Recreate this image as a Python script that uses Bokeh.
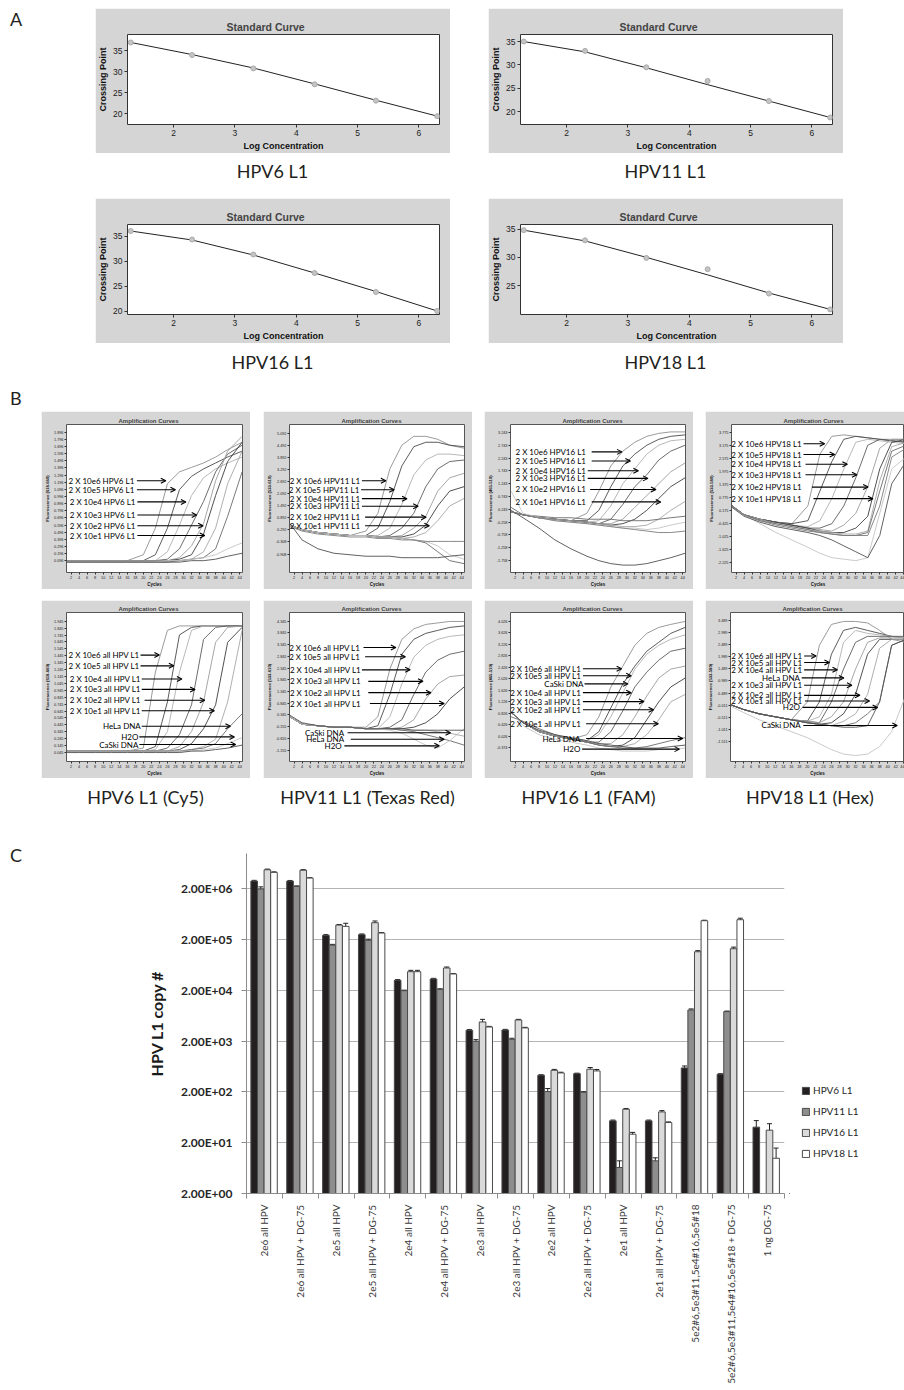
import numpy as np
from bokeh.plotting import figure
from bokeh.models import (ColumnDataSource, FixedTicker, Div, Spacer, Arrow, OpenHead,
                          Whisker, TeeHead, Legend, LegendItem, Range1d)
from bokeh.layouts import column, row
from bokeh.core.properties import value
from bokeh.embed import file_html
from bokeh.resources import INLINE

# ---------------- Panel A : standard curves ----------------
A_logc = [1.3, 2.3, 3.3, 4.3, 5.3, 6.3]
A_names = ["HPV6 L1", "HPV11 L1", "HPV16 L1", "HPV18 L1"]
A_pts = {
    "HPV6 L1": [37.0, 34.0, 30.8, 27.0, 23.1, 19.4],
    "HPV11 L1": [35.0, 33.0, 29.5, 26.6, 22.3, 18.8],
    "HPV16 L1": [36.0, 34.3, 31.3, 27.6, 23.8, 20.0],
    "HPV18 L1": [34.8, 33.0, 29.9, 27.9, 23.6, 20.8],
}
A_fit = {
    "HPV6 L1": [37.0, 34.1, 30.9, 27.1, 23.2, 19.4],
    "HPV11 L1": [35.0, 32.8, 29.4, 25.8, 22.3, 18.8],
    "HPV16 L1": [36.0, 34.2, 31.2, 27.6, 23.9, 20.0],
    "HPV18 L1": [34.8, 32.9, 30.0, 26.9, 23.7, 20.8],
}
A_yrange = {"HPV6 L1": (17.4, 38.9), "HPV11 L1": (17.3, 36.5),
            "HPV16 L1": (19.3, 37.3), "HPV18 L1": (19.9, 35.8)}
A_yticks = {"HPV6 L1": [20, 25, 30, 35], "HPV11 L1": [20, 25, 30, 35],
            "HPV16 L1": [20, 25, 30, 35], "HPV18 L1": [25, 30, 35]}

# ---------------- Panel B : amplification curves (percent of axis height) ----------------
B_cycles = [1, 4, 8, 12, 16, 20, 23, 26, 29, 32, 35, 38, 41, 44.6]

B1_curves = [
    [8, 8, 8, 8, 8, 12, 30, 60, 68, 71, 74, 78, 83, 88],
    [8, 8, 8, 8, 8, 8, 12, 30, 56, 65, 70, 74, 78, 82],
    [8, 8, 8, 8, 8, 8, 8, 14, 32, 52, 64, 70, 74, 78],
    [8, 8, 8, 8, 8, 8, 8, 9, 16, 32, 48, 68, 80, 86],
    [8, 8, 8, 8, 8, 8, 8, 8, 10, 18, 33, 62, 82, 92],
    [8, 8, 8, 8, 8, 8, 8, 8, 9, 12, 26, 52, 75, 88],
    [8, 8, 8, 8, 8, 8, 8, 8, 8, 9, 14, 30, 60, 82],
    [7, 7, 7, 7, 7, 7, 7, 7, 8, 9, 10, 16, 38, 68],
    [7, 7, 7, 7, 7, 7, 7, 8, 8, 9, 10, 12, 16, 20],
    [7, 7, 7, 7, 7, 7, 7, 7, 7, 8, 8, 9, 11, 13],
]
B2_curves = [
    [32, 29, 27, 26, 25, 28, 40, 70, 86, 92, 92, 90, 86, 84],
    [32, 29, 27, 26, 25, 25, 30, 48, 72, 85, 88, 88, 86, 85],
    [32, 29, 27, 26, 25, 25, 25, 30, 46, 66, 76, 80, 80, 79],
    [32, 29, 27, 26, 25, 25, 24, 25, 30, 40, 58, 70, 75, 76],
    [32, 29, 27, 26, 25, 25, 24, 24, 25, 30, 38, 55, 64, 67],
    [32, 29, 27, 26, 25, 25, 24, 24, 24, 26, 32, 45, 55, 58],
    [32, 29, 27, 26, 25, 25, 24, 24, 23, 24, 27, 35, 45, 50],
    [32, 29, 27, 26, 25, 25, 24, 24, 23, 22, 20, 14, 8, 6],
    [32, 29, 27, 26, 25, 25, 24, 24, 23, 22, 21, 18, 12, 9],
    [33, 22, 16, 13, 12, 11, 11, 11, 10, 10, 10, 10, 11, 12],
    [31, 28, 26, 25, 24, 24, 23, 23, 22, 22, 21, 21, 21, 21],
]
B3_curves = [
    [41, 39, 37, 36, 35, 40, 55, 72, 82, 88, 92, 94, 95, 95],
    [41, 39, 37, 36, 35, 35, 42, 58, 72, 80, 86, 90, 92, 93],
    [41, 39, 37, 36, 35, 34, 35, 45, 60, 70, 80, 86, 89, 90],
    [41, 39, 37, 36, 35, 34, 33, 36, 46, 58, 66, 76, 82, 86],
    [41, 39, 37, 36, 35, 34, 33, 33, 36, 44, 52, 60, 68, 74],
    [41, 39, 37, 36, 35, 34, 33, 32, 33, 36, 42, 50, 58, 64],
    [41, 39, 37, 36, 35, 34, 33, 32, 31, 31, 32, 36, 42, 48],
    [44, 39, 38, 37, 37, 36, 36, 36, 35, 35, 35, 36, 37, 38],
    [55, 40, 37, 35, 34, 33, 32, 31, 30, 30, 29, 30, 32, 34],
    [42, 37, 30, 22, 16, 11, 8, 6, 5, 5, 6, 8, 10, 13],
    [41, 39, 37, 35, 34, 33, 32, 31, 30, 29, 28, 27, 27, 28],
]
B4_curves = [
    [45, 39, 36, 34, 33, 45, 80, 92, 93, 92, 91, 90, 90, 90],
    [45, 39, 36, 34, 33, 35, 55, 75, 90, 92, 91, 90, 89, 88],
    [45, 39, 36, 34, 32, 31, 35, 50, 70, 88, 90, 89, 88, 87],
    [45, 39, 36, 34, 32, 30, 30, 33, 45, 64, 86, 90, 89, 88],
    [45, 39, 36, 34, 32, 30, 29, 28, 32, 40, 58, 84, 90, 90],
    [45, 39, 36, 34, 32, 30, 28, 27, 27, 30, 38, 70, 88, 90],
    [45, 39, 36, 33, 31, 29, 28, 27, 26, 26, 28, 62, 85, 88],
    [45, 39, 35, 33, 31, 29, 27, 26, 25, 25, 27, 55, 82, 86],
    [44, 39, 33, 27, 22, 17, 13, 10, 9, 8, 10, 40, 70, 78],
    [44, 38, 34, 31, 29, 27, 25, 22, 18, 14, 10, 25, 60, 75],
    [45, 39, 35, 32, 30, 28, 27, 26, 25, 25, 25, 45, 78, 84],
]
B5_curves = [
    [7, 7, 7, 7, 7, 9, 60, 88, 91, 91, 91, 91, 91, 91],
    [7, 7, 7, 7, 7, 7, 10, 40, 85, 90, 91, 91, 91, 91],
    [7, 7, 7, 7, 7, 7, 8, 20, 60, 88, 91, 91, 91, 91],
    [7, 7, 7, 7, 7, 7, 7, 9, 18, 38, 82, 90, 91, 91],
    [7, 7, 7, 7, 7, 7, 7, 7, 10, 20, 40, 80, 90, 91],
    [7, 7, 7, 7, 7, 7, 7, 7, 8, 12, 22, 38, 80, 90],
    [7, 7, 7, 7, 7, 7, 7, 7, 7, 8, 10, 15, 40, 88],
    [7, 7, 7, 7, 7, 7, 7, 7, 7, 8, 9, 12, 22, 32],
    [7, 7, 7, 7, 7, 7, 7, 7, 7, 7, 8, 9, 12, 16],
    [6, 6, 6, 6, 6, 6, 6, 6, 6, 7, 7, 8, 9, 11],
]
B6_curves = [
    [30, 25, 24, 23, 23, 23, 30, 62, 82, 89, 92, 93, 94, 94],
    [30, 25, 24, 23, 23, 22, 24, 45, 72, 82, 86, 88, 90, 91],
    [30, 25, 24, 23, 23, 22, 22, 30, 52, 70, 78, 82, 84, 85],
    [30, 25, 24, 23, 23, 22, 22, 23, 28, 45, 60, 68, 72, 74],
    [30, 25, 24, 23, 23, 22, 22, 22, 23, 28, 42, 52, 57, 58],
    [30, 25, 24, 23, 23, 22, 22, 22, 22, 23, 26, 32, 42, 50],
    [30, 25, 24, 23, 23, 22, 22, 22, 21, 21, 21, 20, 19, 17],
    [30, 25, 24, 23, 23, 22, 22, 22, 21, 20, 18, 16, 14, 11],
    [30, 25, 24, 23, 23, 22, 22, 21, 19, 15, 11, 9, 14, 22],
    [31, 26, 24, 23, 23, 22, 22, 22, 22, 21, 21, 21, 21, 21],
]
B7_curves = [
    [33, 26, 20, 17, 15, 18, 30, 50, 64, 78, 86, 90, 92, 94],
    [33, 26, 20, 17, 15, 14, 20, 36, 52, 64, 74, 80, 86, 90],
    [33, 26, 20, 17, 15, 14, 18, 30, 46, 62, 72, 78, 82, 85],
    [33, 26, 20, 17, 15, 13, 13, 20, 34, 50, 60, 68, 74, 76],
    [33, 26, 20, 17, 15, 13, 12, 12, 18, 30, 44, 56, 62, 64],
    [33, 26, 20, 17, 15, 13, 11, 10, 11, 16, 28, 40, 50, 56],
    [33, 26, 20, 17, 15, 13, 11, 10, 10, 12, 18, 28, 40, 45],
    [30, 27, 22, 18, 15, 13, 11, 10, 9, 9, 10, 12, 14, 16],
    [34, 24, 18, 15, 13, 11, 9, 8, 7, 7, 7, 8, 8, 9],
    [33, 26, 21, 18, 16, 14, 12, 11, 10, 9, 9, 9, 10, 11],
]
B8_curves = [
    [38, 35, 32, 30, 28, 40, 78, 92, 94, 94, 93, 88, 82, 80],
    [38, 35, 32, 30, 28, 27, 40, 72, 88, 90, 88, 86, 84, 83],
    [38, 35, 32, 30, 28, 27, 30, 45, 80, 88, 86, 85, 84, 83],
    [38, 35, 32, 30, 28, 27, 26, 40, 62, 80, 84, 84, 84, 84],
    [38, 35, 32, 30, 28, 27, 26, 30, 40, 62, 80, 83, 83, 83],
    [38, 35, 32, 30, 28, 26, 25, 26, 32, 45, 72, 82, 82, 82],
    [38, 35, 32, 30, 28, 26, 25, 24, 27, 32, 45, 76, 82, 82],
    [38, 35, 32, 30, 28, 26, 25, 24, 24, 26, 32, 40, 78, 82],
    [37, 33, 28, 24, 20, 16, 12, 8, 5, 4, 5, 10, 20, 45],
    [38, 35, 32, 30, 28, 26, 25, 24, 23, 23, 24, 40, 78, 82],
]

# y-axis tick labels (fluorescence), top to bottom, with their top/bottom positions (percent)
B_ticks = [
    (["1.896", "1.796", "1.696", "1.596", "1.496", "1.396", "1.296", "1.196", "1.096", "0.996",
      "0.896", "0.796", "0.696", "0.596", "0.496", "0.396", "0.296", "0.196", "0.096"], 94.7, 8.0),
    (["5.092", "4.492", "3.892", "3.292", "2.692", "2.092", "1.492", "0.892", "0.292", "-0.308",
      "-0.908"], 94.0, 12.5),
    (["3.243", "2.743", "2.243", "1.743", "1.243", "0.743", "0.243", "-0.258", "-0.758", "-1.258",
      "-1.758"], 94.7, 8.0),
    (["3.775", "3.175", "2.575", "1.975", "1.375", "0.775", "0.175", "-0.425", "-1.025", "-1.625",
      "-2.225"], 94.7, 6.5),
    (["1.945", "1.845", "1.745", "1.645", "1.545", "1.445", "1.345", "1.245", "1.145", "1.045",
      "0.945", "0.845", "0.745", "0.645", "0.545", "0.445", "0.345", "0.245", "0.145", "0.045"], 94.1, 6.1),
    (["4.345", "3.845", "3.345", "2.845", "2.345", "1.845", "1.345", "0.845", "0.345", "-0.155",
      "-0.655", "-1.155"], 94.1, 7.7),
    (["4.026", "3.626", "3.226", "2.826", "2.426", "2.026", "1.626", "1.226", "0.826", "0.426",
      "0.026", "-0.374"], 94.1, 9.2),
    (["3.489", "2.989", "2.489", "1.989", "1.489", "0.989", "0.489", "-0.011", "-0.511", "-1.011",
      "-1.511"], 94.5, 13.6),
]
B_ylabels = ["Fluorescence (618-660)", "Fluorescence (533-610)", "Fluorescence (465-510)",
             "Fluorescence (533-580)", "Fluorescence (618-660)", "Fluorescence (533-610)",
             "Fluorescence (465-510)", "Fluorescence (533-580)"]

# annotations: label text, text right end (cycle), arrow tail, arrow tip, level (percent)
B_ann = [
    dict(lab=["2 X 10e6 HPV6 L1", "2 X 10e5 HPV6 L1", "2 X 10e4 HPV6 L1", "2 X 10e3 HPV6 L1",
              "2 X 10e2 HPV6 L1", "2 X 10e1 HPV6 L1"],
         tx=[18.0, 18.0, 18.3, 18.3, 18.3, 18.3], tail=[18.4, 18.4, 18.5, 18.5, 18.5, 18.5],
         tip=[25.6, 28.0, 30.6, 33.3, 34.9, 35.3], ly=[62.0, 55.9, 47.7, 38.9, 31.6, 25.0]),
    dict(lab=["2 X 10e6 HPV11 L1", "2 X 10e5 HPV11 L1", "2 X 10e4 HPV11 L1", "2 X 10e3 HPV11 L1",
              "2 X 10e2 HPV11 L1", "2 X 10e1 HPV11 L1"],
         tx=[18.8, 18.6, 18.8, 18.8, 18.8, 18.8], tail=[19.0, 18.8, 19.0, 19.0, 19.8, 19.8],
         tip=[25.0, 27.1, 30.3, 33.1, 35.1, 35.9], ly=[62.0, 55.9, 49.9, 44.8, 37.4, 31.6]),
    dict(lab=["2 X 10e6 HPV16 L1", "2 X 10e5 HPV16 L1", "2 X 10e4 HPV16 L1", "2 X 10e3 HPV16 L1",
              "2 X 10e2 HPV16 L1", "2 X 10e1 HPV16 L1"],
         tx=[20.0, 20.0, 20.0, 20.0, 20.0, 20.0], tail=[21.2, 21.2, 20.2, 20.2, 20.8, 21.2],
         tip=[28.8, 30.9, 32.9, 35.3, 37.3, 38.5], ly=[81.5, 75.3, 68.7, 63.6, 56.1, 47.7]),
    dict(lab=["2 X 10e6 HPV18 L1", "2 X 10e5 HPV18 L1", "2 X 10e4 HPV18 L1", "2 X 10e3 HPV18 L1",
              "2 X 10e2 HPV18 L1", "2 X 10e1 HPV18 L1"],
         tx=[18.7, 18.7, 18.7, 18.7, 18.7, 18.7], tail=[18.9, 18.9, 19.4, 19.4, 21.0, 21.4],
         tip=[24.2, 26.7, 29.9, 32.3, 35.1, 36.3], ly=[87.0, 79.7, 73.1, 66.0, 57.7, 49.9]),
    dict(lab=["2 X 10e6 all HPV L1", "2 X 10e5 all HPV L1", "2 X 10e4 all HPV L1", "2 X 10e3 all HPV L1",
              "2 X 10e2 all HPV L1", "2 X 10e1 all HPV L1", "HeLa DNA", "H2O", "CaSki DNA"],
         tx=[19.3, 19.3, 19.6, 19.6, 19.6, 19.6, 19.6, 19.0, 19.0],
         tail=[19.3, 19.3, 19.6, 19.6, 20.3, 19.6, 19.6, 19.0, 19.0],
         tip=[24.0, 27.6, 29.6, 32.9, 35.3, 37.7, 41.7, 42.7, 43.0],
         ly=[71.4, 64.2, 55.4, 48.4, 41.1, 34.1, 23.7, 16.5, 11.4]),
    dict(lab=["2 X 10e6 all HPV L1", "2 X 10e5 all HPV L1", "2 X 10e4 all HPV L1", "2 X 10e3 all HPV L1",
              "2 X 10e2 all HPV L1", "2 X 10e1 all HPV L1", "CaSki DNA", "HeLa DNA", "H2O"],
         tx=[18.8, 18.8, 19.0, 19.0, 19.0, 19.0, 14.8, 14.8, 14.2],
         tail=[19.4, 19.8, 19.0, 20.6, 20.6, 21.0, 15.4, 16.2, 14.6],
         tip=[27.5, 29.9, 31.1, 34.3, 36.3, 39.6, 41.2, 39.6, 38.4],
         ly=[76.5, 70.3, 61.5, 53.8, 46.2, 38.9, 19.3, 14.9, 10.5]),
    dict(lab=["2 X 10e6 all HPV L1", "2 X 10e5 all HPV L1", "CaSki DNA", "2 X 10e4 all HPV L1",
              "2 X 10e3 all HPV L1", "2 X 10e2 all HPV L1", "2 X 10e1 all HPV L1", "HeLa DNA", "H2O"],
         tx=[18.8, 18.8, 19.4, 18.8, 18.8, 18.8, 18.8, 18.6, 18.6],
         tail=[19.0, 19.0, 19.4, 19.0, 19.0, 19.0, 19.8, 19.8, 18.8],
         tip=[28.7, 31.1, 30.3, 31.1, 34.3, 36.7, 37.9, 44.0, 43.2],
         ly=[62.2, 57.6, 52.1, 46.2, 40.2, 34.7, 25.3, 15.4, 8.3]),
    dict(lab=["2 X 10e6 all HPV L1", "2 X 10e5 all HPV L1", "2 X 10e4 all HPV L1", "HeLa DNA",
              "2 X 10e3 all HPV L1", "2 X 10e2 all HPV L1", "2 X 10e1 all HPV L1", "H2O", "CaSki DNA"],
         tx=[19.0, 19.0, 19.0, 18.4, 19.0, 19.0, 19.0, 18.4, 18.6],
         tail=[19.2, 19.2, 19.2, 18.6, 19.2, 19.2, 19.4, 18.8, 19.0],
         tip=[22.2, 25.5, 27.5, 29.1, 31.1, 33.1, 35.5, 37.5, 42.4],
         ly=[70.8, 66.4, 61.5, 56.1, 51.2, 44.4, 40.6, 36.3, 24.2]),
]
B_titles = ["HPV6 L1 (Cy5)", "HPV11 L1 (Texas Red)", "HPV16 L1 (FAM)", "HPV18 L1 (Hex)"]

# ---------------- Panel C : copy numbers ----------------
C_labels = ["2e6 all HPV", "2e6 all HPV + DG-75", "2e5 all HPV", "2e5 all HPV + DG-75",
            "2e4 all HPV", "2e4 all HPV + DG-75", "2e3 all HPV", "2e3 all HPV + DG-75",
            "2e2 all HPV", "2e2 all HPV + DG-75", "2e1 all HPV", "2e1 all HPV + DG-75",
            "5e2#6,5e3#11,5e4#16,5e5#18", "5e2#6,5e3#11,5e4#16,5e5#18 + DG-75", "1 ng DG-75"]
C_series = ["HPV6 L1", "HPV11 L1", "HPV16 L1", "HPV18 L1"]
C_hpv6 = [2.86e6, 2.86e6, 2.44e5, 2.52e5, 3.18e4, 3.37e4, 3.29e3, 3.33e3, 4.28e2, 4.6e2, 54, 54, 5.96e2, 4.48e2, 40.6]
C_hpv11 = [2.0e6, 2.25e6, 1.57e5, 1.95e5, 1.98e4, 2.11e4, 2.0e3, 2.19e3, 2.04e2, 1.98e2, 6.5, 8.8, 8.26e3, 7.66e3, float("nan")]
C_hpv16 = [4.78e6, 4.7e6, 3.89e5, 4.33e5, 4.69e4, 5.55e4, 4.8e3, 5.25e3, 5.37e2, 5.62e2, 91.7, 81, 1.16e5, 1.33e5, 35.4]
C_hpv18 = [4.25e6, 3.28e6, 3.67e5, 2.71e5, 4.69e4, 4.23e4, 3.82e3, 3.66e3, 4.75e2, 5.2e2, 29.5, 50, 4.74e5, 4.96e5, 9.9]
C_err6 = [0.1e6, 0.08e6, 0.08e5, 0.08e5, 0.1e4, 0.1e4, 0.1e3, 0.1e3, 0.1e2, 0.1e2, 2, 2, 0.55e2, 0.1e2, 14]
C_err11 = [0.2e6, 0.05e6, 0.05e5, 0.1e5, 0.05e4, 0.05e4, 0.15e3, 0.1e3, 0.3e2, 0.05e2, 2.3, 1.3, 0.4e3, 0.2e3, float("nan")]
C_err16 = [0.15e6, 0.1e6, 0.1e5, 0.35e5, 0.3e4, 0.25e4, 0.6e3, 0.15e3, 0.2e2, 0.45e2, 3, 5, 0.06e5, 0.1e5, 12]
C_err18 = [0.1e6, 0.05e6, 0.55e5, 0.05e5, 0.3e4, 0.05e4, 0.1e3, 0.1e3, 0.15e2, 0.35e2, 2.5, 1.5, 0.1e5, 0.35e5, 5.8]
C_ticks = [2, 20, 200, 2000, 20000, 200000, 2000000]
C_tick_text = ["2.00E+00", "2.00E+01", "2.00E+02", "2.00E+03", "2.00E+04", "2.00E+05", "2.00E+06"]

PAL = ["#8f8f8f", "#4a4a4a", "#b0b0b0", "#5c5c5c", "#9c9c9c", "#3d3d3d",
       "#a6a6a6", "#6b6b6b", "#c4c4c4", "#505050", "#7d7d7d"]


def style_axis(ax, font, lab_size, title_size, tick_out, standoff, lstandoff):
    ax.axis_line_color = None
    ax.major_tick_line_color = "#333333"
    ax.major_tick_out = tick_out
    ax.major_tick_in = 0
    ax.minor_tick_line_color = None
    ax.major_label_text_font = font
    ax.major_label_text_font_size = lab_size
    ax.major_label_text_color = "#222222"
    ax.axis_label_text_font = font
    ax.axis_label_text_font_size = title_size
    ax.axis_label_text_font_style = "bold"
    ax.axis_label_text_color = "#111111"
    ax.major_label_standoff = standoff
    ax.axis_label_standoff = lstandoff


def std_fig(name):
    p = figure(width=355, height=145, output_backend="svg", toolbar_location=None,
               x_range=Range1d(1.247, 6.337), y_range=Range1d(*A_yrange[name]),
               min_border_left=31, min_border_right=11, min_border_top=26, min_border_bottom=29)
    p.border_fill_color = "#d5d5d5"
    p.background_fill_color = "white"
    p.outline_line_color = "#333333"
    p.title.text = "Standard Curve"
    p.title.text_font = "Liberation Sans"
    p.title.text_font_size = "10.5px"
    p.title.text_font_style = "bold"
    p.title.align = "left"
    p.title.offset = 99
    p.title.standoff = 3
    p.grid.visible = False
    p.xaxis.ticker = FixedTicker(ticks=[2, 3, 4, 5, 6])
    p.yaxis.ticker = FixedTicker(ticks=A_yticks[name])
    style_axis(p.xaxis[0], "Liberation Sans", "8.5px", "9px", 3, 2, 2)
    style_axis(p.yaxis[0], "Liberation Sans", "8.5px", "9px", 3, 2, 2)
    p.xaxis.axis_label = "Log Concentration"
    p.yaxis.axis_label = "Crossing Point"
    p.line(A_logc, A_fit[name], line_color="#222222", line_width=1)
    p.scatter(A_logc, A_pts[name], size=5, fill_color="#c4c4c4", line_color="#aaaaaa")
    return p


def amp_fig(i, curves, width=209, xmax=44.7, right=8, top=13):
    p = figure(width=width, height=178, output_backend="svg", toolbar_location=None,
               x_range=Range1d(0.86, xmax), y_range=Range1d(0, 100),
               min_border_left=20, min_border_right=right, min_border_top=top,
               min_border_bottom=178 - top - 151)
    p.border_fill_color = "#d6d6d6"
    p.background_fill_color = "white"
    p.outline_line_color = "#555555"
    p.grid.visible = False
    p.title.text = "Amplification Curves"
    p.title.text_font = "Liberation Sans"
    p.title.text_font_size = "6px"
    p.title.text_font_style = "bold"
    p.title.align = "left"
    p.title.offset = 52
    p.title.standoff = 2
    labels, ttop, tbot = B_ticks[i]
    yt = [round(v, 3) for v in np.linspace(ttop, tbot, len(labels))]
    p.yaxis.ticker = FixedTicker(ticks=yt)
    p.yaxis.major_label_overrides = {t: s for t, s in zip(yt, labels)}
    p.xaxis.ticker = FixedTicker(ticks=list(range(2, 45, 2)))
    style_axis(p.xaxis[0], "Liberation Sans", "3.8px", "4.5px", 2, 1, 0)
    style_axis(p.yaxis[0], "Liberation Sans", "3.8px", "4.2px", 2, 1, 1)
    p.xaxis.axis_label = "Cycles"
    p.yaxis.axis_label = B_ylabels[i]
    p.multi_line(xs=[B_cycles] * len(curves), ys=curves, line_color=PAL[:len(curves)], line_width=0.9)
    a = B_ann[i]
    src = ColumnDataSource(dict(x0=a["tail"], x1=a["tip"], y=a["ly"]))
    p.add_layout(Arrow(end=OpenHead(size=5, line_width=1.1, line_color="black"),
                       x_start="x0", y_start="y", x_end="x1", y_end="y", source=src,
                       line_width=1.1, line_color="black"))
    p.text(x=a["tx"], y=a["ly"], text=a["lab"], text_align="right", text_baseline="middle",
           text_font=value("Lato"), text_font_size="8px", text_color="black", x_offset=-1)
    return p


def tdiv(s, w, h, cy, size=18, left=None, boxw=None):
    bw = boxw or w
    if left is None:
        pos = f"left:0px;width:{bw}px;text-align:center;"
    else:
        pos = f"left:{left}px;"
    html = (f'<div style="position:relative;width:{w}px;height:{h}px;overflow:visible;">'
            f'<div style="position:absolute;{pos}top:{cy - 12}px;height:24px;line-height:24px;'
            f'font-family:Lato,sans-serif;font-size:{size}px;color:#231f20;white-space:nowrap;">{s}</div></div>')
    return Div(text=html, width=w, height=h, margin=(0, 0, 0, 0))


fa = [std_fig(n) for n in A_names]
allB = [B1_curves, B2_curves, B3_curves, B4_curves, B5_curves, B6_curves, B7_curves, B8_curves]
fb = []
for i, cv in enumerate(allB):
    top = 13 if i < 4 else 12
    if i % 4 == 3:
        fb.append(amp_fig(i, cv, width=199, xmax=44.2, right=0, top=top))
    else:
        fb.append(amp_fig(i, cv, top=top))

# ---- panel C figure ----
pC = figure(width=751, height=578, output_backend="svg", toolbar_location=None,
            x_range=Range1d(0, 15), y_range=Range1d(2, 1e7), y_axis_type="log",
            min_border_left=208, min_border_right=5, min_border_top=41, min_border_bottom=197)
pC.outline_line_color = None
pC.xgrid.visible = False
pC.yaxis.ticker = FixedTicker(ticks=C_ticks)
pC.ygrid.ticker = FixedTicker(ticks=C_ticks)
pC.ygrid.grid_line_color = "#b4b4b4"
pC.ygrid.grid_line_width = 1
pC.yaxis.major_label_overrides = {t: s for t, s in zip(C_ticks, C_tick_text)}
pC.yaxis.axis_line_color = "#8c8c8c"
pC.yaxis.major_tick_line_color = "#8c8c8c"
pC.yaxis.major_tick_out = 5
pC.yaxis.major_tick_in = 0
pC.yaxis.minor_tick_line_color = None
pC.yaxis.major_label_text_font = "Lato"
pC.yaxis.major_label_text_font_style = "bold"
pC.yaxis.major_label_text_font_size = "12px"
pC.yaxis.major_label_text_color = "#262626"
pC.yaxis.major_label_standoff = 9
pC.yaxis.axis_label = "HPV L1 copy #"
pC.yaxis.axis_label_text_font = "Lato"
pC.yaxis.axis_label_text_font_style = "bold"
pC.yaxis.axis_label_text_font_size = "16px"
pC.yaxis.axis_label_text_color = "#1a1a1a"
pC.yaxis.axis_label_standoff = 12

centers = [i + 0.5 for i in range(15)]
pC.xaxis.ticker = FixedTicker(ticks=centers, minor_ticks=list(range(16)))
pC.xaxis.major_label_overrides = {c: s for c, s in zip(centers, C_labels)}
pC.xaxis.major_label_orientation = np.pi / 2
pC.xaxis.axis_line_color = "#8c8c8c"
pC.xaxis.major_tick_line_color = None
pC.xaxis.major_tick_out = 5
pC.xaxis.minor_tick_line_color = "#8c8c8c"
pC.xaxis.minor_tick_out = 5
pC.xaxis.minor_tick_in = 0
pC.xaxis.major_label_text_font = "Lato"
pC.xaxis.major_label_text_font_size = "10px"
pC.xaxis.major_label_text_color = "#3a3a3a"
pC.xaxis.major_label_standoff = 6

vals = [C_hpv6, C_hpv11, C_hpv16, C_hpv18]
errs = [C_err6, C_err11, C_err16, C_err18]
fills = ["#231f20", "#8e8e8e", "#dadada", "#ffffff"]
offs = [-0.276, -0.092, 0.092, 0.276]
for k in range(4):
    xs = [c - 0.01 + offs[k] for c in centers]
    pC.vbar(x=xs, top=vals[k], bottom=2, width=0.184, fill_color=fills[k],
            line_color="#4a4a4a", line_width=1)
    wx, wu, wl = [], [], []
    for x, v, e in zip(xs, vals[k], errs[k]):
        if np.isfinite(v) and np.isfinite(e):
            wx.append(x); wu.append(v + e); wl.append(v - e)
    wsrc = ColumnDataSource(dict(x=wx, upper=wu, lower=wl))
    pC.add_layout(Whisker(source=wsrc, base="x", upper="upper", lower="lower", line_color="#222222",
                          line_width=1,
                          upper_head=TeeHead(size=5, line_color="#222222", line_width=1),
                          lower_head=TeeHead(size=5, line_color="#222222", line_width=1)))

# ---- legend panel (separate figure to the right of panel C; its proxy bars lie outside its range) ----
pL = figure(width=115, height=578, output_backend="svg", toolbar_location=None,
            x_range=Range1d(0, 1), y_range=Range1d(0, 1),
            x_axis_location=None, y_axis_location=None,
            min_border_left=0, min_border_right=0, min_border_top=0, min_border_bottom=0)
pL.outline_line_color = None
pL.grid.visible = False
leg_r = []
for k in range(4):
    leg_r.append(pL.vbar(x=[-5], top=[-5], bottom=[-6], width=0.1, fill_color=fills[k],
                         line_color="#4a4a4a", line_width=1))
legend = Legend(items=[LegendItem(label=s, renderers=[r]) for s, r in zip(C_series, leg_r)],
                location=(12, 34), orientation="vertical", glyph_width=9, glyph_height=9,
                label_text_font="Lato", label_text_font_size="10px", label_text_color="#262626",
                spacing=9, padding=0, margin=0, border_line_color=None,
                background_fill_alpha=0, label_height=9, label_standoff=3)
pL.add_layout(legend)

layout = column(
    Spacer(width=10, height=8),
    row(tdiv("A", 95, 145, 11, left=10), fa[0], Spacer(width=38, height=145), fa[1]),
    row(Spacer(width=95, height=37), tdiv("HPV6 L1", 355, 37, 18), Spacer(width=38, height=37),
        tdiv("HPV11 L1", 355, 37, 18)),
    Spacer(width=10, height=8),
    row(Spacer(width=95, height=145), fa[2], Spacer(width=38, height=145), fa[3]),
    row(Spacer(width=95, height=42), tdiv("HPV16 L1", 355, 42, 19), Spacer(width=38, height=42),
        tdiv("HPV18 L1", 355, 42, 19)),
    row(tdiv("B", 41, 26, 13, left=10)),
    row(Spacer(width=41, height=178), fb[0], Spacer(width=13, height=178), fb[1],
        Spacer(width=12, height=178), fb[2], Spacer(width=12, height=178), fb[3]),
    Spacer(width=10, height=11),
    row(Spacer(width=41, height=178), fb[4], Spacer(width=13, height=178), fb[5],
        Spacer(width=12, height=178), fb[6], Spacer(width=12, height=178), fb[7]),
    row(Spacer(width=41, height=34), tdiv(B_titles[0], 209, 34, 19), Spacer(width=13, height=34),
        tdiv(B_titles[1], 209, 34, 19), Spacer(width=12, height=34), tdiv(B_titles[2], 209, 34, 19),
        Spacer(width=12, height=34), tdiv(B_titles[3], 199, 34, 19, boxw=210)),
    row(tdiv("C", 38, 578, 43, left=10), pC, pL),
)

open("out.html", "w").write(file_html(layout, INLINE))
